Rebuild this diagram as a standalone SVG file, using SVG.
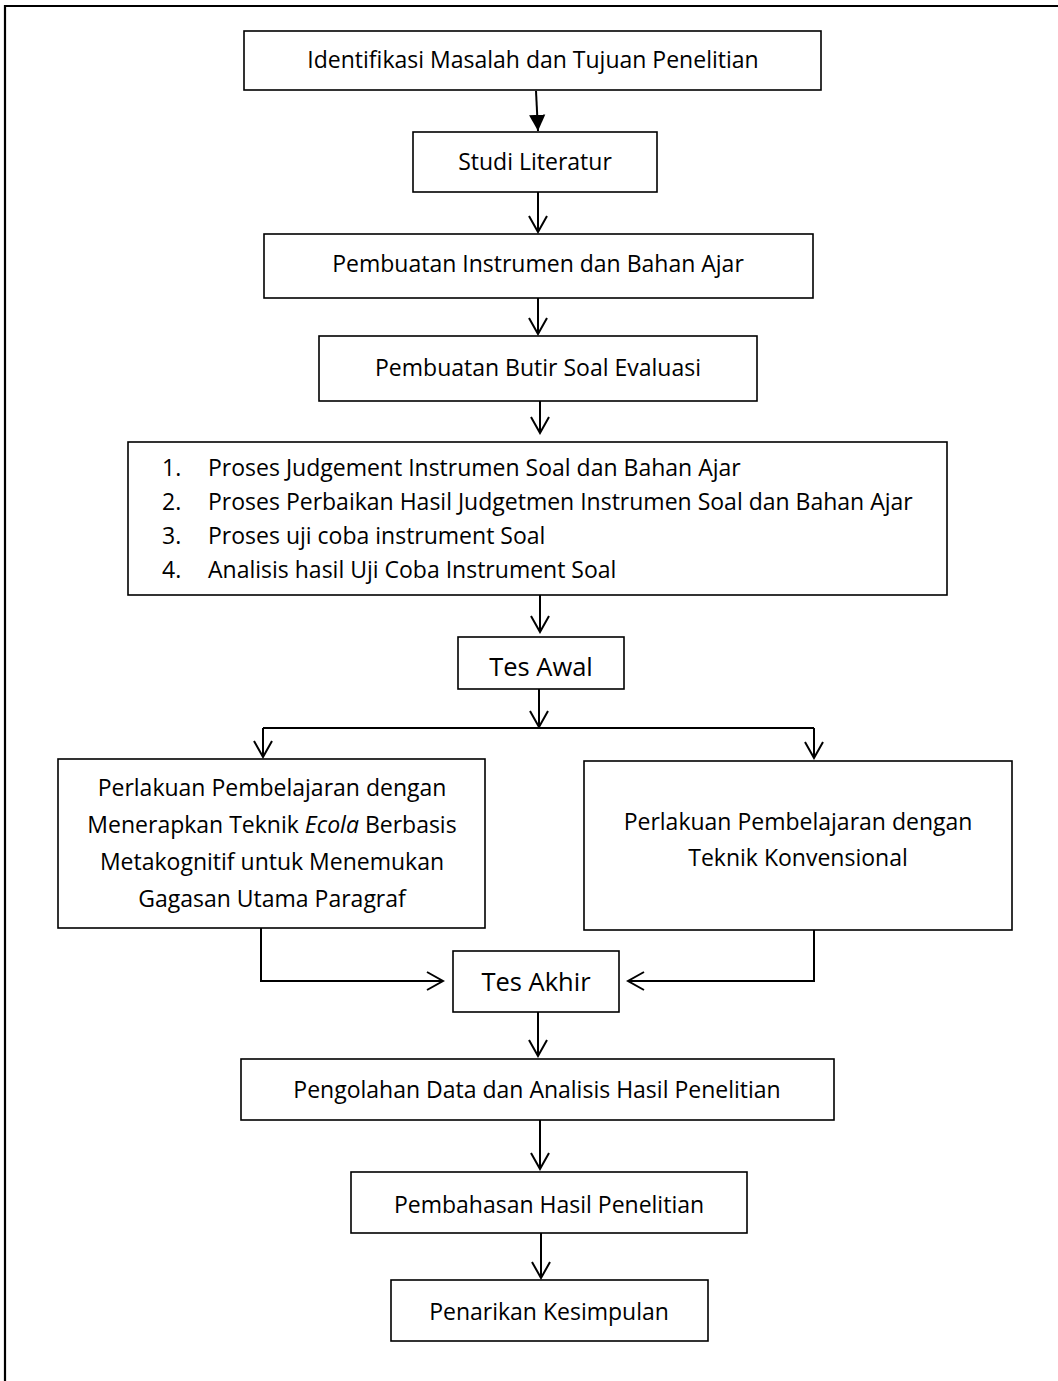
<svg xmlns="http://www.w3.org/2000/svg" width="1058" height="1381" viewBox="0 0 1058 1381">
<style>
.box{fill:#fff;stroke:#000;stroke-width:1.6}
.t{font-family:"Open Sans","Noto Sans",sans-serif;font-size:23px;fill:#000;text-anchor:middle}
.tl{font-family:"Open Sans","Noto Sans",sans-serif;font-size:23px;fill:#000}
.big{font-size:25.5px}
.c{fill:none;stroke:#000;stroke-width:2}
</style>
<defs>
<marker id="open" viewBox="0 0 20 20" refX="18" refY="10" markerWidth="20" markerHeight="20" markerUnits="userSpaceOnUse" orient="auto">
<path d="M2,1 L18,10 L2,19" fill="none" stroke="#000" stroke-width="2"/>
</marker>
<marker id="fill" viewBox="0 0 20 20" refX="18" refY="10" markerWidth="18" markerHeight="18" markerUnits="userSpaceOnUse" orient="auto">
<path d="M0,1 L18,10 L0,19 Z" fill="#000"/>
</marker>
</defs>
<rect width="1058" height="1381" fill="#fff"/>
<path d="M5,1381 V6 H1058" fill="none" stroke="#000" stroke-width="2.2"/>

<g id="connectors">
<path class="c" d="M536,91 L538,131" marker-end="url(#fill)"/>
<path class="c" d="M538,192 V232" marker-end="url(#open)"/>
<path class="c" d="M538,298 V334" marker-end="url(#open)"/>
<path class="c" d="M540,401 V433" marker-end="url(#open)"/>
<path class="c" d="M540,595 V632" marker-end="url(#open)"/>
<path class="c" d="M539,689 V727" marker-end="url(#open)"/>
<path class="c" d="M263,728 H814"/>
<path class="c" d="M263,728 V757" marker-end="url(#open)"/>
<path class="c" d="M814,728 V758" marker-end="url(#open)"/>
<path class="c" d="M261,928 V981 H443" marker-end="url(#open)"/>
<path class="c" d="M814,930 V981 H628" marker-end="url(#open)"/>
<path class="c" d="M538,1012 V1056" marker-end="url(#open)"/>
<path class="c" d="M540,1120 V1169" marker-end="url(#open)"/>
<path class="c" d="M541,1233 V1278" marker-end="url(#open)"/>
</g>

<g id="n1"><rect class="box" x="244" y="31" width="577" height="59"/><text class="t" x="533" y="68">Identifikasi Masalah dan Tujuan Penelitian</text></g>
<g id="n2"><rect class="box" x="413" y="132" width="244" height="60"/><text class="t" x="535" y="170">Studi Literatur</text></g>
<g id="n3"><rect class="box" x="264" y="234" width="549" height="64"/><text class="t" x="538" y="272">Pembuatan Instrumen dan Bahan Ajar</text></g>
<g id="n4"><rect class="box" x="319" y="336" width="438" height="65"/><text class="t" x="538" y="376">Pembuatan Butir Soal Evaluasi</text></g>
<g id="n5"><rect class="box" x="128" y="442" width="819" height="153"/>
<text class="tl" x="162" y="476">1.</text><text class="tl" x="208" y="476">Proses  Judgement Instrumen Soal dan Bahan Ajar</text>
<text class="tl" x="162" y="510">2.</text><text class="tl" x="208" y="510">Proses Perbaikan Hasil Judgetmen Instrumen Soal dan Bahan Ajar</text>
<text class="tl" x="162" y="544">3.</text><text class="tl" x="208" y="544">Proses uji coba instrument Soal</text>
<text class="tl" x="162" y="578">4.</text><text class="tl" x="208" y="578">Analisis hasil Uji Coba Instrument Soal</text>
</g>
<g id="n6"><rect class="box" x="458" y="637" width="166" height="52"/><text class="t big" x="541" y="676">Tes Awal</text></g>
<g id="n7"><rect class="box" x="58" y="759" width="427" height="169"/>
<text class="t" x="272" y="796">Perlakuan Pembelajaran dengan</text>
<text class="t" x="272" y="833">Menerapkan Teknik <tspan font-style="italic">Ecola</tspan> Berbasis</text>
<text class="t" x="272" y="870">Metakognitif untuk Menemukan</text>
<text class="t" x="272" y="907">Gagasan Utama Paragraf</text>
</g>
<g id="n8"><rect class="box" x="584" y="761" width="428" height="169"/>
<text class="t" x="798" y="830">Perlakuan Pembelajaran dengan</text>
<text class="t" x="798" y="866">Teknik Konvensional</text>
</g>
<g id="n9"><rect class="box" x="453" y="951" width="166" height="61"/><text class="t big" x="536" y="991">Tes Akhir</text></g>
<g id="n10"><rect class="box" x="241" y="1059" width="593" height="61"/><text class="t" x="537" y="1098">Pengolahan Data dan Analisis Hasil Penelitian</text></g>
<g id="n11"><rect class="box" x="351" y="1172" width="396" height="61"/><text class="t" x="549" y="1213">Pembahasan Hasil Penelitian</text></g>
<g id="n12"><rect class="box" x="391" y="1280" width="317" height="61"/><text class="t" x="549" y="1320">Penarikan Kesimpulan</text></g>
</svg>
